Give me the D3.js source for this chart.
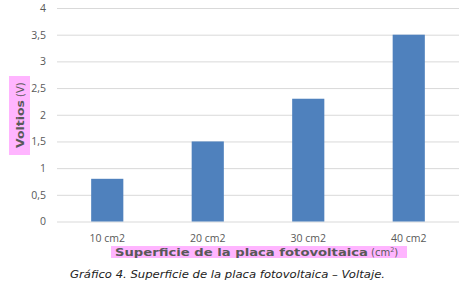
<!DOCTYPE html>
<html><head><meta charset="utf-8">
<script src="https://cdn.jsdelivr.net/npm/d3@7"></script>
<style>body{margin:0;background:#fff}svg{display:block}</style>
</head><body>
<svg id="c" width="470" height="285"></svg>
<script>
const categories = ["10 cm2", "20 cm2", "30 cm2", "40 cm2"];
const voltage = [0.8, 1.5, 2.3, 3.5];
const yTicks = [0, 0.5, 1, 1.5, 2, 2.5, 3, 3.5, 4];
const yTickLabels = ["0", "0,5", "1", "1,5", "2", "2,5", "3", "3,5", "4"];

(function () {
const svg = d3.select("#c");
const mLeft = 57, mRight = 459, mTop = 8, mBottom = 221.5;
const x = d3.scaleBand().domain(categories).range([mLeft, mRight]).paddingInner(0.68).paddingOuter(0.34);
const y = d3.scaleLinear().domain([0, 4]).range([mBottom, mTop]);
const grey = "#595959";
const tickFont = "'Open Sans', sans-serif";
const titleFont = "'DejaVu Sans', Verdana, sans-serif";

// gridlines
const yAxis = d3.axisLeft(y).tickValues(yTicks).tickSize(-(mRight - mLeft)).tickFormat((d, i) => yTickLabels[i]);
const ga = svg.append("g").attr("transform", `translate(${mLeft},0)`).call(yAxis);
ga.select(".domain").remove();
ga.selectAll(".tick line").attr("stroke", "#d9d9d9").attr("stroke-width", 1);
ga.selectAll(".tick text").attr("x", -11).attr("fill", grey).attr("font-size", 10.5).attr("font-family", tickFont);

// bars
svg.append("g").selectAll("rect").data(voltage).join("rect")
  .attr("x", (d, i) => x(categories[i]))
  .attr("width", x.bandwidth())
  .attr("y", d => y(d))
  .attr("height", d => y(0) - y(d))
  .attr("fill", "#4f81bd");

// x axis
const xa = svg.append("g").attr("transform", `translate(0,${mBottom})`).call(d3.axisBottom(x).tickSize(0));
xa.select(".domain").remove();
xa.selectAll(".tick text").attr("dy", 0).attr("y", 20).attr("fill", grey).attr("font-size", 10.5).attr("font-family", tickFont);

// x title
svg.append("rect").attr("x", 111).attr("y", 246).attr("width", 296).attr("height", 12).attr("fill", "#ffb5ff");
const xt = svg.append("text").attr("x", 115).attr("y", 256).attr("font-family", titleFont).attr("fill", grey);
xt.append("tspan").attr("font-weight", "bold").attr("font-size", 11)
  .attr("textLength", 253).attr("lengthAdjust", "spacingAndGlyphs").text("Superficie de la placa fotovoltaica");
xt.append("tspan").attr("x", 371).attr("font-size", 10).text("(cm");
xt.append("tspan").attr("font-size", 6.5).attr("dy", -4).text("2");
xt.append("tspan").attr("font-size", 10).attr("dy", 4).text(")");

// y title
svg.append("rect").attr("x", 9).attr("y", 76).attr("width", 21).attr("height", 79).attr("fill", "#ffb5ff");
const yt = svg.append("text").attr("transform", "translate(24,148) rotate(-90)")
  .attr("font-family", titleFont).attr("fill", grey);
yt.append("tspan").attr("font-weight", "bold").attr("font-size", 11)
  .attr("textLength", 48).attr("lengthAdjust", "spacingAndGlyphs").text("Voltios");
yt.append("tspan").attr("x", 51).attr("font-size", 10).text("(V)");

// caption
svg.append("text").attr("x", 70).attr("y", 278).attr("font-family", titleFont)
  .attr("font-style", "italic").attr("font-size", 11).attr("fill", "#222")
  .attr("textLength", 315).attr("lengthAdjust", "spacingAndGlyphs")
  .text("Gráfico 4. Superficie de la placa fotovoltaica – Voltaje.");
})();
</script>
</body></html>
